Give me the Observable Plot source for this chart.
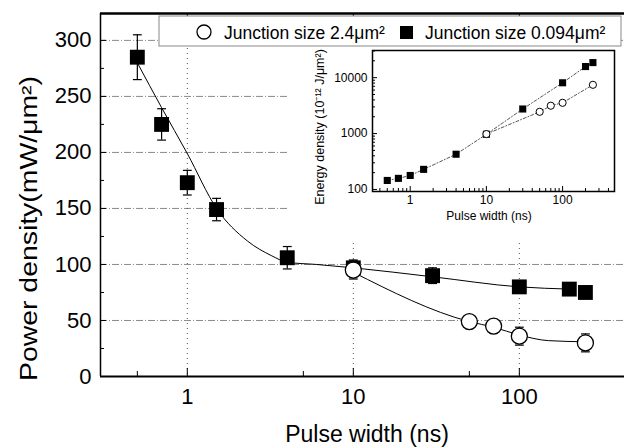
<!DOCTYPE html>
<html><head><meta charset="utf-8">
<script src="https://cdn.jsdelivr.net/npm/d3@7"></script>
<script src="https://cdn.jsdelivr.net/npm/@observablehq/plot@0.6"></script>
<style>
body{margin:0;background:#fff;}
#wrap{position:relative;width:624px;height:448px;overflow:hidden;font-family:"Liberation Sans",Arial,sans-serif;}
#wrap > svg{position:absolute;}
</style></head><body><div id="wrap"></div>
<script>
// ---- data ----
const sqX   = [0.5, 0.7, 1, 1.5, 4, 10, 30, 100, 200, 250];
const sqY   = [285, 225, 173, 149, 106, 97, 90, 80, 78, 75];
const sqErr = [20, 14, 11, 10, 10, 7, 7, 5, 4, 4];
const ciX   = [10, 50, 70, 100, 250];
const ciY   = [95, 49, 45, 36, 30];
const ciErr = [8, 3, 6, 8, 8];
const sqFitX = [0.5, 0.7, 1, 1.5, 2.3, 3.2, 4, 6, 10, 30, 100, 200];
const sqFitY = [280, 240, 199, 150, 121, 108, 102, 100, 97, 89, 80, 78];
const ciFitX = [10, 50, 70, 100, 150, 250];
const ciFitY = [93, 49, 44, 37, 32, 31];
const insetSqX = [0.5, 0.7, 1, 1.5, 4, 10, 30, 100, 200, 250];
const insetSqY = [145, 158, 178, 229, 427, 970, 2750, 8100, 15800, 18600];
const insetCiX = [10, 50, 70, 100, 250];
const insetCiY = [980, 2450, 3150, 3550, 7450];
const yTicks = [0, 50, 100, 150, 200, 250, 300];
const yMinor = [25, 75, 125, 175, 225, 275];
const xTicks = [1, 10, 100];
const xMinor = [0.5, 5, 50];
const insetXTicks = [1, 10, 100];
const insetXMinor = [0.4,0.5,0.6,0.7,0.8,0.9,2,3,4,5,6,7,8,9,20,30,40,50,60,70,80,90,200,300,400];
const insetYTicks = [100, 1000, 10000];
const insetYMinor = [200,300,400,500,600,700,800,900,2000,3000,4000,5000,6000,7000,8000,9000,20000,30000];
const legendLabels = ["Junction size 2.4\u03bcm\u00b2", "Junction size 0.094\u03bcm\u00b2"];
const xLabel = "Pulse width (ns)";
const yLabel = "Power density(mW/\u03bcm\u00b2)";
const insetYLabel = "Energy density (10\u207b\u00b9\u00b2 J/\u03bcm\u00b2)";

const FONT = '"Liberation Sans", Arial, Helvetica, sans-serif';
const sq = sqX.map((x, i) => ({x, y: sqY[i], e: sqErr[i]}));
const ci = ciX.map((x, i) => ({x, y: ciY[i], e: ciErr[i]}));
const sqFit = sqFitX.map((x, i) => ({x, y: sqFitY[i]}));
const ciFit = ciFitX.map((x, i) => ({x, y: ciFitY[i]}));
const iSq = insetSqX.map((x, i) => ({x, y: insetSqY[i]}));
const iCi = insetCiX.map((x, i) => ({x, y: insetCiY[i]}));
const capSymbol = {draw(ctx, size) { const w = Math.sqrt(size); ctx.moveTo(-w / 2, 0); ctx.lineTo(w / 2, 0); }};
const blank = () => "";

const errMarks = (data, capR) => [
  Plot.ruleX(data, {x: "x", y1: d => d.y - d.e, y2: d => d.y + d.e, stroke: "black", strokeWidth: 1.2}),
  Plot.dot(data, {x: "x", y: d => d.y + d.e, symbol: capSymbol, r: capR, stroke: "black", strokeWidth: 1.2}),
  Plot.dot(data, {x: "x", y: d => d.y - d.e, symbol: capSymbol, r: capR, stroke: "black", strokeWidth: 1.2})
];

const main = Plot.plot({
  width: 624, height: 448,
  marginLeft: 100, marginTop: 13, marginRight: 0, marginBottom: 72,
  x: {type: "log", domain: [0.3, 430]},
  y: {domain: [0, 324]},
  style: {fontFamily: FONT, fontSize: "22px", color: "#000", background: "transparent"},
  marks: [
    Plot.ruleY(yTicks.filter(d => d > 0), {stroke: "#8a8a8a", strokeWidth: 1, strokeDasharray: "7,2,1,2"}),
    Plot.ruleX(xTicks, {stroke: "#555", strokeWidth: 1, strokeDasharray: "1,4"}),
    Plot.axisY({ticks: yTicks, tickSize: -6, tickPadding: 15, tickFormat: d => String(d), label: null, fontSize: 22}),
    Plot.axisY({ticks: yMinor, tickSize: -4, tickFormat: blank, label: null}),
    Plot.axisX({ticks: xTicks, tickSize: -8, tickPadding: 20, tickFormat: d => String(d), label: null, fontSize: 22}),
    Plot.axisX({ticks: xMinor, tickSize: -5, tickFormat: blank, label: null}),
    Plot.axisX({anchor: "top", ticks: xTicks, tickSize: -4, tickFormat: blank, label: null}),
    Plot.ruleX([0.3], {stroke: "black", strokeWidth: 1.5}),
    Plot.ruleY([0], {stroke: "black", strokeWidth: 2}),
    Plot.ruleY([324], {stroke: "black", strokeWidth: 2.5}),
    Plot.line(sqFit, {x: "x", y: "y", curve: "monotone-x", stroke: "black", strokeWidth: 1}),
    Plot.line(ciFit, {x: "x", y: "y", curve: "monotone-x", stroke: "black", strokeWidth: 1}),
    ...errMarks(sq, 5),
    ...errMarks(ci, 5),
    Plot.dot(sq, {x: "x", y: "y", symbol: "square", r: 8.4, fill: "black"}),
    Plot.dot(ci, {x: "x", y: "y", r: 8, fill: "white", stroke: "black", strokeWidth: 1.3})
  ]
});
main.style.left = "0px"; main.style.top = "0px";

// labels and legend drawn into the main svg
const ms = d3.select(main);
ms.append("text").attr("x", 367).attr("y", 442).attr("text-anchor", "middle")
  .attr("font-family", FONT).attr("font-size", 23).attr("fill", "black").text(xLabel);
ms.append("text").attr("transform", "translate(37,228.5) rotate(-90)").attr("text-anchor", "middle")
  .attr("font-family", FONT).attr("font-size", 23).attr("fill", "black")
  .attr("textLength", 305).attr("lengthAdjust", "spacingAndGlyphs").text(yLabel);
const lg = ms.append("g");
lg.append("rect").attr("x", 159).attr("y", 16).attr("width", 462).attr("height", 30)
  .attr("fill", "white").attr("stroke", "#888").attr("stroke-width", 1);
lg.append("circle").attr("cx", 204).attr("cy", 32).attr("r", 7).attr("fill", "white").attr("stroke", "black").attr("stroke-width", 1.3);
lg.append("text").attr("x", 224).attr("y", 38.5).attr("text-anchor", "start").attr("font-family", FONT).attr("font-size", 17.5).attr("fill", "black").text(legendLabels[0]);
lg.append("rect").attr("x", 400).attr("y", 26).attr("width", 13).attr("height", 13).attr("fill", "black");
lg.append("text").attr("x", 425).attr("y", 38.5).attr("text-anchor", "start").attr("font-family", FONT).attr("font-size", 17.5).attr("fill", "black").text(legendLabels[1]);

const inset = Plot.plot({
  width: 336, height: 192,
  marginLeft: 84, marginTop: 2, marginRight: 10, marginBottom: 49,
  x: {type: "log", domain: [0.32, 480]},
  y: {type: "log", domain: [92, 30600]},
  style: {fontFamily: FONT, fontSize: "12px", color: "#000", background: "white"},
  marks: [
    Plot.axisY({ticks: insetYTicks, tickSize: -5, tickPadding: 10, tickFormat: d => String(d), label: null, fontSize: 12}),
    Plot.axisY({ticks: insetYMinor, tickSize: -3, tickFormat: blank, label: null}),
    Plot.axisX({ticks: insetXTicks, tickSize: -5, tickPadding: 9, tickFormat: d => String(d), label: null, fontSize: 12}),
    Plot.axisX({ticks: insetXMinor, tickSize: -3, tickFormat: blank, label: null}),
    Plot.frame({stroke: "black", strokeWidth: 1.5}),
    Plot.line(iSq, {x: "x", y: "y", stroke: "#555", strokeWidth: 1, strokeDasharray: "3,2,1,2"}),
    Plot.line(iCi, {x: "x", y: "y", stroke: "#555", strokeWidth: 1, strokeDasharray: "3,2,1,2"}),
    Plot.dot(iSq, {x: "x", y: "y", symbol: "square", r: 4, fill: "black"}),
    Plot.dot(iCi, {x: "x", y: "y", r: 3.6, fill: "white", stroke: "black", strokeWidth: 1})
  ]
});
inset.style.left = "288px"; inset.style.top = "48px";
const is = d3.select(inset);
is.append("text").attr("x", 201).attr("y", 172).attr("text-anchor", "middle")
  .attr("font-family", FONT).attr("font-size", 12).attr("fill", "black").text(xLabel);
is.append("text").attr("transform", "translate(36,79) rotate(-90)").attr("text-anchor", "middle")
  .attr("font-family", FONT).attr("font-size", 12.5).attr("fill", "black").text(insetYLabel);

const wrap = document.getElementById("wrap");
wrap.appendChild(main);
wrap.appendChild(inset);
</script></body></html>
